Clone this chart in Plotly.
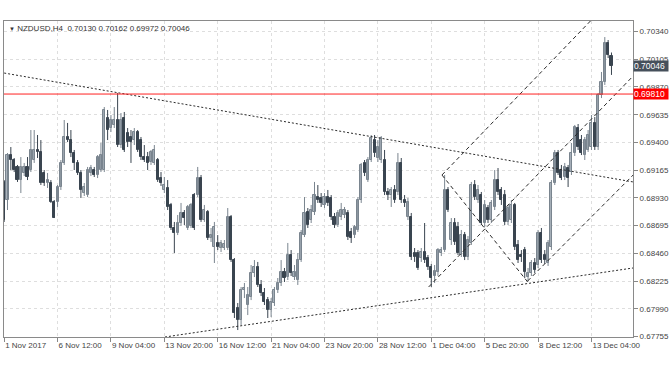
import plotly.graph_objects as go

# ---- data (NZDUSD H4) ----
opens = [0.69065,0.68912,0.69293,0.69251,0.69192,0.69081,0.69141,0.69192,0.69166,0.69251,
0.69336,0.69319,0.69141,0.69056,0.69056,0.68895,0.68895,0.69022,0.69226,0.69446,
0.69420,0.69310,0.69226,0.69141,0.68971,0.68954,0.69141,0.69166,0.69124,0.69166,
0.69166,0.69607,0.69522,0.69548,0.69590,0.69378,0.69607,0.69480,0.69446,0.69420,
0.69488,0.69420,0.69276,0.69276,0.69234,0.69226,0.69251,0.69098,0.68997,0.69014,
0.68870,0.68675,0.68632,0.68717,0.68802,0.68675,0.68692,0.68954,0.68954,0.69098,
0.68742,0.68810,0.68590,0.68514,0.68548,0.68505,0.68505,0.68505,0.68768,0.68403,
0.67997,0.67895,0.68149,0.68022,0.68090,0.68293,0.68344,0.68192,0.68124,0.68064,
0.67980,0.68039,0.68149,0.68209,0.68302,0.68259,0.68446,0.68259,0.68234,0.68403,
0.68615,0.68810,0.68742,0.68810,0.68937,0.68929,0.68870,0.68937,0.68929,0.68768,
0.68700,0.68768,0.68785,0.68802,0.68641,0.68615,0.68658,0.68912,0.69226,0.69081,
0.69251,0.69420,0.69268,0.69251,0.69251,0.68980,0.68954,0.68997,0.68980,0.69226,
0.68912,0.68768,0.68768,0.68463,0.68463,0.68420,0.68471,0.68420,0.68344,0.68268,
0.68302,0.68463,0.68488,0.68997,0.68573,0.68717,0.68683,0.68446,0.68615,0.68429,
0.68548,0.69039,0.68912,0.68954,0.68717,0.68844,0.68742,0.68853,0.69081,0.68997,
0.68954,0.68726,0.68742,0.68870,0.68531,0.68446,0.68488,0.68259,0.68293,0.68378,
0.68361,0.68632,0.68446,0.68378,0.68514,0.69056,0.69310,0.69166,0.69107,0.69183,
0.69149,0.69310,0.69522,0.69420,0.69293,0.69336,0.69361,0.69565,0.69361,0.69802,
0.69912,0.70243,0.70130]
highs = [0.69081,0.69310,0.69361,0.69268,0.69209,0.69276,0.69226,0.69276,0.69505,0.69505,
0.69463,0.69420,0.69166,0.69141,0.69081,0.68912,0.69039,0.69251,0.69590,0.69565,
0.69505,0.69336,0.69251,0.69166,0.69056,0.69192,0.69209,0.69192,0.69293,0.69395,
0.69700,0.69675,0.69632,0.69700,0.69819,0.69649,0.69658,0.69522,0.69505,0.69522,
0.69505,0.69446,0.69378,0.69319,0.69336,0.69378,0.69268,0.69149,0.69107,0.69081,
0.68887,0.68726,0.68785,0.68887,0.68827,0.68870,0.68887,0.68971,0.69192,0.69124,
0.68870,0.68827,0.68675,0.68726,0.68615,0.68573,0.68573,0.68844,0.68785,0.68420,
0.68039,0.68175,0.68209,0.68175,0.68361,0.68403,0.68387,0.68234,0.68166,0.68090,
0.68081,0.68175,0.68251,0.68403,0.68336,0.68548,0.68488,0.68361,0.68463,0.68658,
0.68937,0.68844,0.68870,0.69065,0.69039,0.68971,0.68971,0.68997,0.68954,0.68802,
0.68827,0.68887,0.68853,0.68827,0.68675,0.68700,0.68937,0.69226,0.69251,0.69276,
0.69463,0.69463,0.69420,0.69454,0.69336,0.69014,0.69022,0.69039,0.69310,0.69268,
0.68954,0.68929,0.68802,0.68505,0.68488,0.68505,0.68717,0.68446,0.68370,0.68361,
0.68505,0.68514,0.69124,0.69022,0.68759,0.68759,0.68726,0.68658,0.68641,0.68607,
0.69065,0.69081,0.69039,0.68980,0.68912,0.68870,0.68912,0.69166,0.69183,0.69022,
0.68997,0.68870,0.68912,0.68887,0.68573,0.68488,0.68514,0.68336,0.68403,0.68420,
0.68658,0.68675,0.68488,0.68573,0.69081,0.69336,0.69336,0.69209,0.69226,0.69209,
0.69395,0.69548,0.69556,0.69463,0.69446,0.69505,0.69632,0.69615,0.69819,0.69997,
0.70293,0.70268,0.70162]
lows = [0.68726,0.68827,0.69166,0.69149,0.69065,0.68971,0.69115,0.69081,0.69149,0.69226,
0.69268,0.69039,0.69031,0.69014,0.68887,0.68759,0.68853,0.68997,0.69209,0.69403,
0.69276,0.69166,0.69124,0.68929,0.68946,0.68937,0.69115,0.69107,0.69098,0.69149,
0.69149,0.69420,0.69488,0.69522,0.69361,0.69353,0.69319,0.69361,0.69226,0.69378,
0.69319,0.69251,0.69234,0.69166,0.69209,0.69209,0.69065,0.69031,0.68971,0.68827,
0.68658,0.68463,0.68615,0.68692,0.68700,0.68658,0.68675,0.68658,0.68937,0.68726,
0.68726,0.68573,0.68556,0.68378,0.68488,0.68471,0.68488,0.68488,0.68387,0.67912,
0.67810,0.67853,0.68081,0.67937,0.68064,0.68259,0.68175,0.68098,0.68022,0.67912,
0.67920,0.68014,0.68124,0.68183,0.68217,0.68234,0.68268,0.68234,0.68192,0.68387,
0.68598,0.68675,0.68717,0.68785,0.68887,0.68853,0.68844,0.68861,0.68742,0.68675,
0.68683,0.68742,0.68759,0.68573,0.68548,0.68590,0.68641,0.68887,0.69115,0.69065,
0.69234,0.69276,0.69234,0.69226,0.68954,0.68912,0.68853,0.68887,0.68954,0.68887,
0.68853,0.68742,0.68403,0.68387,0.68319,0.68387,0.68378,0.68319,0.68175,0.68209,
0.68268,0.68437,0.68471,0.68810,0.68531,0.68531,0.68446,0.68429,0.68403,0.68403,
0.68531,0.68912,0.68887,0.68700,0.68683,0.68717,0.68717,0.68827,0.68954,0.68870,
0.68700,0.68700,0.68717,0.68488,0.68378,0.68387,0.68251,0.68225,0.68268,0.68293,
0.68336,0.68378,0.68370,0.68353,0.68488,0.69039,0.69124,0.69081,0.69081,0.69022,
0.69124,0.69285,0.69336,0.69293,0.69251,0.69319,0.69336,0.69336,0.69336,0.69776,
0.69887,0.70115,0.69972]
closes = [0.68742,0.69293,0.69251,0.69166,0.69081,0.69192,0.69192,0.69107,0.69336,0.69336,
0.69319,0.69056,0.69056,0.69081,0.68895,0.68759,0.69022,0.69226,0.69446,0.69420,
0.69310,0.69226,0.69141,0.68997,0.69022,0.69166,0.69183,0.69124,0.69276,0.69293,
0.69675,0.69505,0.69590,0.69590,0.69378,0.69590,0.69336,0.69403,0.69403,0.69488,
0.69336,0.69276,0.69251,0.69226,0.69319,0.69336,0.69081,0.69056,0.69039,0.68853,
0.68675,0.68632,0.68717,0.68802,0.68759,0.68853,0.68870,0.68675,0.69098,0.68742,
0.68827,0.68590,0.68615,0.68683,0.68514,0.68548,0.68539,0.68768,0.68403,0.67954,
0.67895,0.68149,0.68166,0.68107,0.68293,0.68344,0.68192,0.68124,0.68048,0.67980,
0.68048,0.68149,0.68209,0.68302,0.68251,0.68446,0.68293,0.68302,0.68403,0.68632,
0.68802,0.68700,0.68827,0.68954,0.68912,0.68887,0.68937,0.68887,0.68768,0.68700,
0.68802,0.68827,0.68827,0.68598,0.68590,0.68683,0.68912,0.69209,0.69141,0.69251,
0.69437,0.69310,0.69361,0.69437,0.68980,0.68954,0.68997,0.68912,0.69226,0.68912,
0.68887,0.68895,0.68429,0.68429,0.68336,0.68471,0.68403,0.68344,0.68251,0.68310,
0.68488,0.68488,0.68997,0.68827,0.68717,0.68556,0.68463,0.68615,0.68429,0.68573,
0.69039,0.68937,0.68997,0.68717,0.68870,0.68742,0.68887,0.69081,0.68980,0.68912,
0.68726,0.68844,0.68870,0.68514,0.68403,0.68429,0.68302,0.68293,0.68378,0.68319,
0.68632,0.68403,0.68403,0.68548,0.69056,0.69310,0.69141,0.69098,0.69192,0.69098,
0.69310,0.69531,0.69361,0.69310,0.69420,0.69463,0.69565,0.69361,0.69802,0.69912,
0.70243,0.70141,0.70046]

bar_index = list(range(len(closes)))

x_tick_bars = [0, 16, 32, 48, 64, 80, 96, 112, 128, 144, 160, 176]
x_tick_labels = ["1 Nov 2017", "6 Nov 12:00", "9 Nov 04:00", "13 Nov 20:00", "16 Nov 12:00",
                 "21 Nov 04:00", "23 Nov 20:00", "28 Nov 12:00", "1 Dec 04:00",
                 "5 Dec 20:00", "8 Dec 12:00", "13 Dec 04:00"]
y_ticks = [0.67755, 0.67990, 0.68225, 0.68460, 0.68695, 0.68930,
           0.69165, 0.69400, 0.69635, 0.69870, 0.70105, 0.70340]

red_level = 0.69810
last_price = 0.70046
header = "NZDUSD,H4  0.70130 0.70162 0.69972 0.70046"

# drawn trend lines: (bar, price) anchor pairs
trend_top_bars, trend_top_prices = [0, 188.5], [0.69988, 0.69065]
trend_bot_bars, trend_bot_prices = [48.2, 188.5], [0.67751, 0.68336]
chan_a_bars, chan_a_prices = [131.2, 175.7], [0.69124, 0.70429]
chan_b_bars, chan_b_prices = [131.2, 156.9], [0.69124, 0.68217]
chan_c_bars, chan_c_prices = [127.2, 188.5], [0.68175, 0.69963]
chan_d_bars, chan_d_prices = [156.9, 188.5], [0.68226, 0.69124]

FONT = "Liberation Sans, Arial, sans-serif"
UP_FILL, UP_EDGE = "#a9b2bb", "#7a858f"
DN_FILL, DN_EDGE = "#3a4550", "#3a4550"

fig = go.Figure()

# wicks
for up in (True, False):
    wx, wy = [], []
    for i, o, h, l, c in zip(bar_index, opens, highs, lows, closes):
        if (c >= o) == up:
            wx += [i, i, None]
            wy += [l, h, None]
    fig.add_trace(go.Scatter(x=wx, y=wy, mode="lines",
                             line=dict(color=UP_EDGE if up else DN_EDGE, width=1),
                             showlegend=False, hoverinfo="skip"))

# bodies
body_base = [min(o, c) for o, c in zip(opens, closes)]
body_len = [max(abs(c - o), 0.00002) for o, c in zip(opens, closes)]
body_fill = [UP_FILL if c >= o else DN_FILL for o, c in zip(opens, closes)]
body_edge = [UP_EDGE if c >= o else DN_EDGE for o, c in zip(opens, closes)]
fig.add_trace(go.Bar(x=bar_index, y=body_len, base=body_base, width=0.62,
                     marker=dict(color=body_fill, line=dict(color=body_edge, width=1)),
                     showlegend=False, hoverinfo="skip"))

for bx, py, dash in [(trend_top_bars, trend_top_prices, "dot"),
                     (trend_bot_bars, trend_bot_prices, "dot"),
                     (chan_a_bars, chan_a_prices, "dash"),
                     (chan_b_bars, chan_b_prices, "dash"),
                     (chan_c_bars, chan_c_prices, "dash"),
                     (chan_d_bars, chan_d_prices, "dash")]:
    fig.add_trace(go.Scatter(x=bx, y=py, mode="lines",
                             line=dict(color="#2b2b2b", width=1,
                                       dash="2px,2px" if dash == "dot" else "4px,3px"),
                             showlegend=False, hoverinfo="skip"))

fig.add_shape(type="line", xref="paper", x0=0, x1=1, yref="y", y0=red_level, y1=red_level,
              line=dict(color="#ff2020", width=1))

fig.add_annotation(xref="paper", x=1, yref="y", y=last_price, xanchor="left", yanchor="middle",
                   text=f"{last_price:.5f}", showarrow=False, bgcolor="#46505b",
                   width=34, align="left",
                   font=dict(family=FONT, size=8.5, color="white"), borderpad=0, xshift=0)
fig.add_annotation(xref="paper", x=1, yref="y", y=red_level, xanchor="left", yanchor="middle",
                   text=f"{red_level:.5f}", showarrow=False, bgcolor="#ff0000",
                   width=34, align="left",
                   font=dict(family=FONT, size=8.5, color="white"), borderpad=0, xshift=0)
fig.add_annotation(xref="paper", x=0, yref="paper", y=1, xanchor="left", yanchor="top",
                   text="<span style='font-size:6px'>▼</span> " + header, showarrow=False,
                   xshift=3, yshift=-1,
                   font=dict(family=FONT, size=8, color="#333333"))

fig.update_layout(
    width=672, height=372, margin=dict(l=3, r=36, t=21, b=35),
    paper_bgcolor="white", plot_bgcolor="white", bargap=0,
    font=dict(family=FONT, size=8, color="#444444"),
    xaxis=dict(range=[-0.05, 188.45], tickvals=x_tick_bars, ticktext=x_tick_labels,
               tickangle=0, ticks="outside", ticklen=4, tickcolor="#888888",
               ticklabelposition="outside right",
               showline=True, linecolor="#8a8a8a", mirror=True,
               showgrid=True, gridcolor="#dedede", griddash="dot",
               zeroline=False, tickfont=dict(size=8)),
    yaxis=dict(range=[0.67751, 0.70429], side="right", tickvals=y_ticks,
               ticktext=[f"{v:.5f}" for v in y_ticks],
               ticks="outside", ticklen=4, tickcolor="#888888",
               showline=True, linecolor="#8a8a8a", mirror=True,
               showgrid=True, gridcolor="#dedede", griddash="dot",
               zeroline=False, tickfont=dict(size=8)),
)

fig.write_html("out.html", config={"displayModeBar": False},
               post_script="document.body.style.margin='0';")
